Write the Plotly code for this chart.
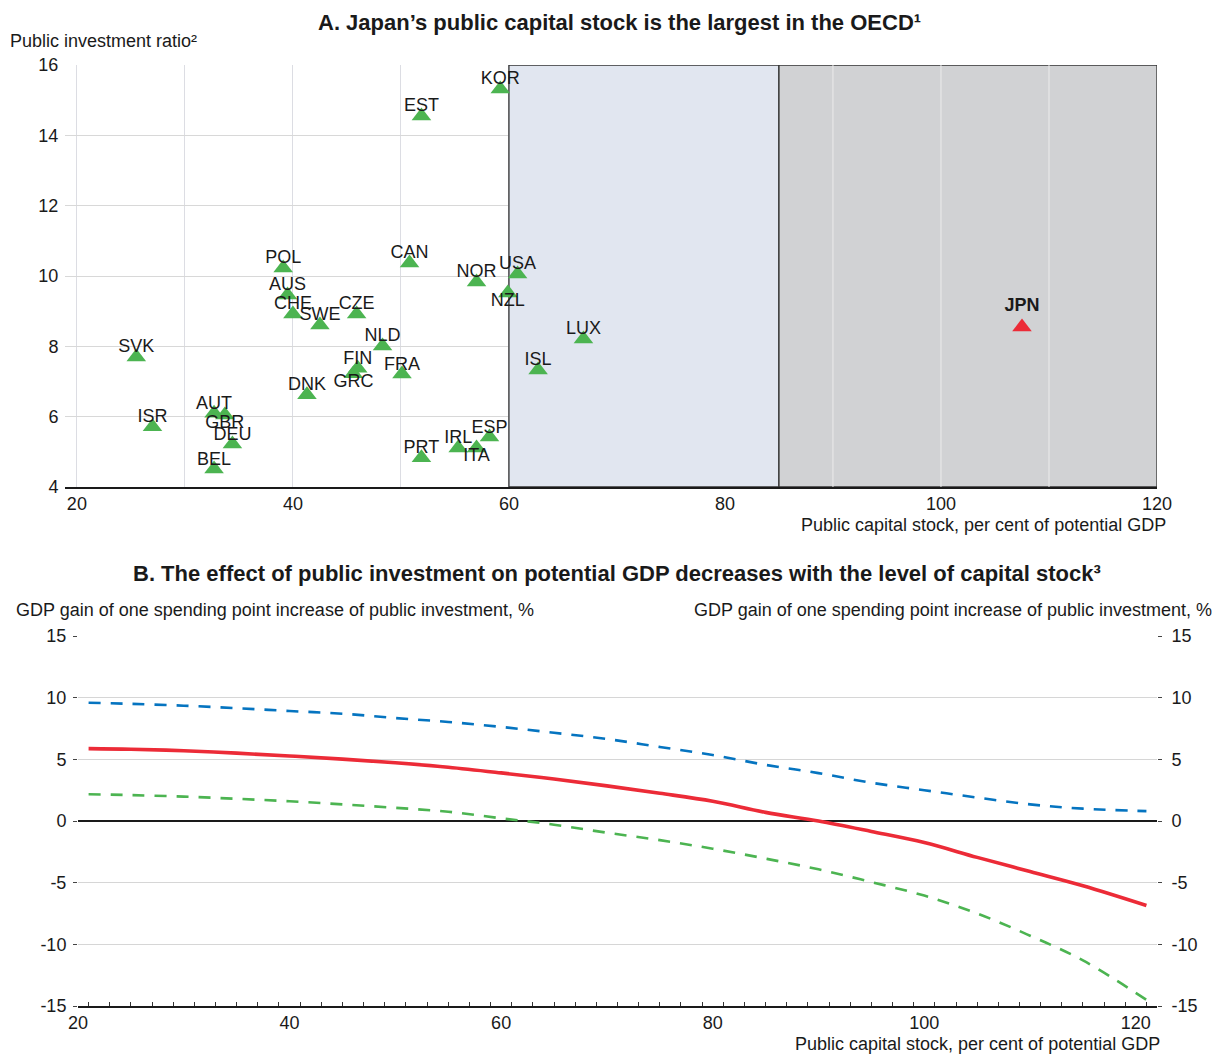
import plotly.graph_objects as go

# ---- Panel A: public capital stock vs public investment ratio ----
countries = ["KOR", "EST", "POL", "CAN", "NOR", "USA", "NZL", "AUS", "CHE", "SWE",
             "CZE", "NLD", "FIN", "GRC", "FRA", "DNK", "SVK", "ISR", "AUT", "GBR",
             "DEU", "BEL", "PRT", "IRL", "ITA", "ESP", "LUX", "ISL"]
capital_stock = [59.2, 51.9, 39.1, 50.8, 57.0, 60.8, 59.9, 39.5, 40.0, 42.5,
                 45.9, 48.3, 46.0, 45.6, 50.1, 41.3, 25.5, 27.0, 32.7, 33.7,
                 34.4, 32.7, 51.9, 55.3, 57.0, 58.2, 66.9, 62.7]
investment_ratio = [15.32, 14.55, 10.23, 10.37, 9.83, 10.06, 9.52, 9.46, 8.92, 8.61,
                    8.92, 8.01, 7.38, 7.22, 7.21, 6.62, 7.70, 5.71, 6.10, 6.05,
                    5.22, 4.51, 4.83, 5.11, 5.11, 5.42, 8.21, 7.33]
label_pos = ["top center"] * len(countries)
for below in ("NZL", "GRC", "ITA", "GBR"):
    label_pos[countries.index(below)] = "bottom center"

jpn_name = ["JPN"]
jpn_stock = [107.5]
jpn_ratio = [8.55]

# Shaded capital-stock zones
zone_mid = (60, 85)
zone_high = (85, 120)
grey_grid = [90, 100, 110]

# ---- Panel B: GDP gain by level of capital stock ----
stock_level = [21, 25, 30, 35, 40, 45, 50, 55, 60, 65, 70, 75, 80, 85, 90, 95,
               100, 105, 110, 115, 121]
gain_central = [5.87, 5.82, 5.70, 5.50, 5.27, 5.02, 4.72, 4.36, 3.90, 3.40, 2.85,
                2.25, 1.60, 0.70, 0.00, -0.85, -1.75, -2.95, -4.10, -5.25, -6.85]
gain_upper = [9.59, 9.50, 9.35, 9.15, 8.92, 8.70, 8.35, 8.03, 7.63, 7.15, 6.65,
              6.00, 5.35, 4.55, 3.88, 3.10, 2.50, 1.90, 1.35, 1.00, 0.80]
gain_lower = [2.17, 2.10, 1.98, 1.80, 1.60, 1.35, 1.07, 0.75, 0.22, -0.30, -0.95,
              -1.55, -2.25, -3.05, -3.92, -4.95, -6.05, -7.50, -9.30, -11.30, -14.50]
gain_ticks = [-15, -10, -5, 0, 5, 10, 15]
gain_ticktext = [str(v) for v in gain_ticks]

W, H = 1216, 1054
FONT = "Liberation Sans, Arial, sans-serif"
TXT = "#1a1a1a"
GREEN = "#4cb451"
RED = "#ec2b37"
BLUE = "#0574c0"


def px_x(p):
    return p / W


def px_y(p):
    return 1 - p / H


fig = go.Figure()

fig.add_trace(go.Scatter(
    x=capital_stock, y=investment_ratio, mode="markers",
    marker=dict(symbol="triangle-up", size=17, color=GREEN),
    xaxis="x", yaxis="y", showlegend=False, hoverinfo="skip"))
fig.add_trace(go.Scatter(
    x=capital_stock, y=investment_ratio, text=countries, mode="text",
    textposition=label_pos, textfont=dict(family=FONT, size=18, color=TXT),
    cliponaxis=False, xaxis="x", yaxis="y", showlegend=False, hoverinfo="skip"))
fig.add_trace(go.Scatter(
    x=jpn_stock, y=jpn_ratio, text=["<b>%s</b>" % n for n in jpn_name],
    mode="markers+text", textposition="top center",
    marker=dict(symbol="triangle-up", size=17, color=RED),
    textfont=dict(family=FONT, size=18, color=TXT), cliponaxis=False,
    xaxis="x", yaxis="y", showlegend=False, hoverinfo="skip"))

fig.add_trace(go.Scatter(
    x=stock_level, y=gain_upper, mode="lines",
    line=dict(color=BLUE, width=2.6, dash="12px,10px", shape="spline"),
    xaxis="x2", yaxis="y2", showlegend=False, hoverinfo="skip"))
fig.add_trace(go.Scatter(
    x=stock_level, y=gain_lower, mode="lines",
    line=dict(color=GREEN, width=2.6, dash="12px,10px", shape="spline"),
    xaxis="x2", yaxis="y2", showlegend=False, hoverinfo="skip"))
fig.add_trace(go.Scatter(
    x=stock_level, y=gain_central, mode="lines",
    line=dict(color=RED, width=3.6, shape="spline"),
    xaxis="x2", yaxis="y2", showlegend=False, hoverinfo="skip"))
# invisible trace so the right-hand axis is drawn
fig.add_trace(go.Scatter(
    x=[stock_level[0]], y=[gain_central[0]], mode="markers", marker=dict(opacity=0),
    xaxis="x2", yaxis="y3", showlegend=False, hoverinfo="skip"))

shapes = [
    dict(type="rect", xref="x", yref="y", x0=zone_mid[0], x1=zone_mid[1], y0=4, y1=16,
         fillcolor="#e1e6f0", line=dict(color="#333333", width=1.3), layer="between"),
    dict(type="rect", xref="x", yref="y", x0=zone_high[0], x1=zone_high[1], y0=4, y1=16,
         fillcolor="#d1d2d4", line=dict(color="#333333", width=1.3), layer="between"),
]
for g in grey_grid:
    shapes.append(dict(type="line", xref="x", yref="y", x0=g, x1=g, y0=4, y1=16,
                       line=dict(color="#ececec", width=1), layer="between"))

tickfont = dict(family=FONT, size=18, color=TXT)

fig.update_layout(
    width=W, height=H, margin=dict(l=0, r=0, t=0, b=0),
    paper_bgcolor="white", plot_bgcolor="white",
    font=dict(family=FONT, color=TXT),
    shapes=shapes,
    xaxis=dict(domain=[px_x(65), px_x(1157)], range=[18.9, 120], anchor="y",
               tickvals=[20, 40, 60, 80, 100, 120], tickfont=tickfont,
               showgrid=True, gridcolor="#dcdde3", gridwidth=1,
               minor=dict(showgrid=True, gridcolor="#dcdde3", dtick=10, tick0=0),
               showline=True, linecolor="#1a1a1a", linewidth=1.6, zeroline=False,
               ticks="", automargin=False),
    yaxis=dict(domain=[px_y(487), px_y(65)], range=[4, 16], anchor="x",
               tickvals=[4, 6, 8, 10, 12, 14, 16], tickfont=tickfont,
               showgrid=True, gridcolor="#d8d8d8", gridwidth=1, zeroline=False,
               ticks="outside", ticklen=2, tickcolor="white", automargin=False),
    xaxis2=dict(domain=[px_x(78), px_x(1157)], range=[20, 122], anchor="y2",
                tickvals=[20, 40, 60, 80, 100, 120], tickfont=tickfont,
                showgrid=False, zeroline=False, showline=True, linecolor="#1a1a1a",
                linewidth=1.6, ticks="", automargin=False,
                minor=dict(ticks="inside", ticklen=4, tick0=21, dtick=2,
                           tickcolor="#333333", showgrid=False)),
    yaxis2=dict(domain=[px_y(1006), px_y(636)], range=[-15, 15], anchor="x2",
                tickvals=gain_ticks, ticktext=gain_ticktext, tickfont=tickfont,
                showgrid=True, gridcolor="#d6d6d6", gridwidth=1.2,
                zeroline=True, zerolinecolor="#1a1a1a", zerolinewidth=1.6,
                ticks="outside", ticklen=4, tickcolor="#444444",
                ticklabelstandoff=3, automargin=False),
    yaxis3=dict(domain=[px_y(1006), px_y(636)], range=[-15, 15], anchor="x2",
                overlaying="y2", side="right",
                tickvals=gain_ticks, ticktext=gain_ticktext, tickfont=tickfont,
                showgrid=False, zeroline=False, ticks="outside", ticklen=4,
                tickcolor="#444444", ticklabelstandoff=6, automargin=False),
)

title_font = dict(family=FONT, size=22, color=TXT)
label_font = dict(family=FONT, size=18, color=TXT)
annotations = [
    dict(text="<b>A. Japan’s public capital stock is the largest in the OECD¹</b>",
         x=px_x(620), y=px_y(22), xanchor="center", yanchor="middle", font=title_font),
    dict(text="Public investment ratio²", x=px_x(8), y=px_y(41),
         xanchor="left", yanchor="middle", font=label_font),
    dict(text="Public capital stock, per cent of potential GDP", x=px_x(1168), y=px_y(525),
         xanchor="right", yanchor="middle", font=label_font),
    dict(text="<b>B. The effect of public investment on potential GDP decreases with the level of capital stock³</b>",
         x=px_x(617), y=px_y(573), xanchor="center", yanchor="middle", font=title_font),
    dict(text="GDP gain of one spending point increase of public investment, %",
         x=px_x(14), y=px_y(610), xanchor="left", yanchor="middle", font=label_font),
    dict(text="GDP gain of one spending point increase of public investment, %",
         x=px_x(1214), y=px_y(610), xanchor="right", yanchor="middle", font=label_font),
    dict(text="Public capital stock, per cent of potential GDP", x=px_x(1162), y=px_y(1044),
         xanchor="right", yanchor="middle", font=label_font),
]
for a in annotations:
    a.update(xref="paper", yref="paper", showarrow=False)
fig.update_layout(annotations=annotations)

fig.write_html("out.html")
